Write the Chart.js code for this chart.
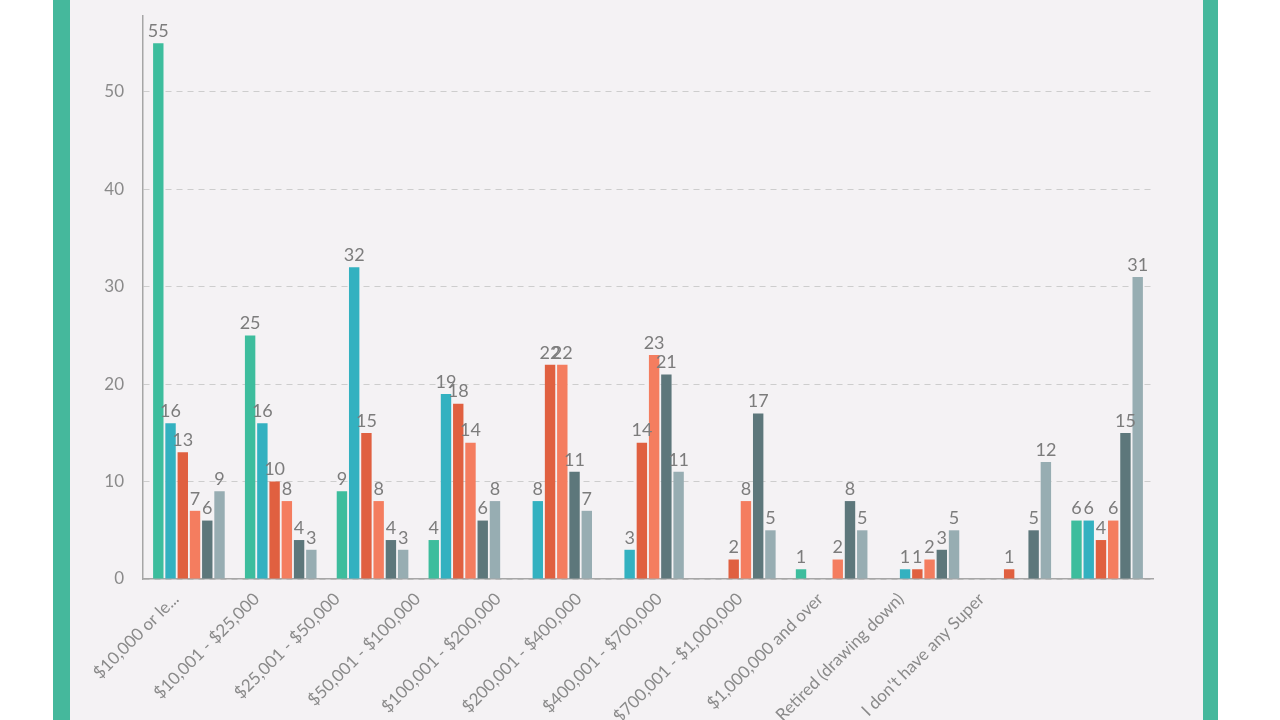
<!DOCTYPE html>
<html>
<head>
  <title>Super balance</title>
  <script src="https://cdn.jsdelivr.net/npm/chart.js@4.4.1/dist/chart.umd.min.js"></script>
  <style>
    html, body { margin: 0; padding: 0; background: #ffffff; overflow: hidden; width: 1280px; height: 720px; }
    #panel { position: absolute; left: 53px; top: 0; width: 1165px; height: 720px; background: #45b89c; }
    #inner { position: absolute; left: 17px; top: 0; width: 1133px; height: 720px; background: #f4f2f4; }
    #wrap { position: absolute; left: 0; top: 0; width: 1133px; height: 800px; }
  </style>
</head>
<body>
  <div id="panel">
    <div id="inner">
      <div id="wrap"><canvas id="chart"></canvas></div>
    </div>
  </div>

  <script>
    // Categories (x axis)
    const categories = [
      '$10,000 or le...', '$10,001 - $25,000', '$25,001 - $50,000', '$50,001 - $100,000',
      '$100,001 - $200,000', '$200,001 - $400,000', '$400,001 - $700,000',
      '$700,001 - $1,000,000', '$1,000,000 and over', 'Retired (drawing down)',
      "I don't have any Super"
    ];

    // Series values, one array per colour (null = no bar)
    const series1 = [55, 25, 9, 4, null, null, null, 1, null, null, 6];
    const series2 = [16, 16, 32, 19, 8, 3, null, null, 1, null, 6];
    const series3 = [13, 10, 15, 18, 22, 14, 2, null, 1, 1, 4];
    const series4 = [7, 8, 8, 14, 22, 23, 8, 2, 2, null, 6];
    const series5 = [6, 4, 4, 6, 11, 21, 17, 8, 3, 5, 15];
    const series6 = [9, 3, 3, 8, 7, 11, 5, 5, 5, 12, 31];

    const yTicks = [0, 10, 20, 30, 40, 50];

    const colors = ['#3dbd9d', '#33b1c0', '#e06040', '#f47d5f', '#5d777b', '#97adb2'];
    const allSeries = [series1, series2, series3, series4, series5, series6];

    // draws the value above each bar
    const valueLabels = {
      id: 'valueLabels',
      afterDatasetsDraw(chart) {
        const ctx = chart.ctx;
        ctx.save();
        ctx.font = '18px Lato';
        ctx.fillStyle = '#7c7c7c';
        ctx.textAlign = 'center';
        ctx.textBaseline = 'bottom';
        chart.data.datasets.forEach((ds, i) => {
          const meta = chart.getDatasetMeta(i);
          meta.data.forEach((bar, j) => {
            const v = ds.data[j];
            if (v === null || v === undefined) return;
            ctx.fillText(String(v), bar.x, bar.y - 3);
          });
        });
        ctx.restore();
      }
    };

    new Chart(document.getElementById('chart'), {
      type: 'bar',
      data: {
        labels: categories,
        datasets: allSeries.map((d, i) => ({
          data: d,
          backgroundColor: colors[i],
          borderWidth: 0,
          barPercentage: 0.85,
          categoryPercentage: 0.8,
          xAxisID: 'x',
        })),
      },
      options: {
        responsive: true,
        maintainAspectRatio: false,
        animation: false,
        layout: { padding: { top: 0, right: 50, left: 0, bottom: 0 } },
        plugins: { legend: { display: false }, tooltip: { enabled: false } },
        scales: {
          x: {
            type: 'category',
            position: 'bottom',
            grid: { display: false, drawTicks: false },
            border: { display: true, color: '#a6a6a6', width: 1.5 },
            ticks: { display: false },
            afterFit(scale) { scale.height = 0; },
          },
          // the rotated labels sit on their own, tighter spacing than the bars
          xl: {
            type: 'linear',
            position: 'bottom',
            min: 1.16,
            max: 12.56,
            grid: { display: false, drawTicks: false },
            border: { display: false },
            afterBuildTicks(scale) {
              scale.ticks = categories.map((_, i) => ({ value: i + 1 }));
            },
            afterFit(scale) { scale.height = 221; },
            ticks: {
              autoSkip: false,
              minRotation: 45,
              maxRotation: 45,
              padding: 10,
              color: '#8a8a8a',
              font: { family: 'Lato', size: 17 },
              callback: (v) => categories[v - 1],
            },
          },
          y: {
            min: 0,
            max: 57.8,
            afterBuildTicks(scale) {
              scale.ticks = yTicks.map(v => ({ value: v }));
            },
            afterFit(scale) {
              scale.width = 73;
              scale.paddingTop = 16;
              scale.paddingBottom = 0;
            },
            grid: { color: '#cdcdcd', lineWidth: 1, drawTicks: false },
            border: { display: true, color: '#a6a6a6', width: 1.5, dash: [6, 5] },
            ticks: {
              padding: 19,
              color: '#8a8a8a',
              font: { family: 'Lato', size: 17 },
            },
          },
        },
      },
      plugins: [valueLabels],
    });
  </script>
</body>
</html>
